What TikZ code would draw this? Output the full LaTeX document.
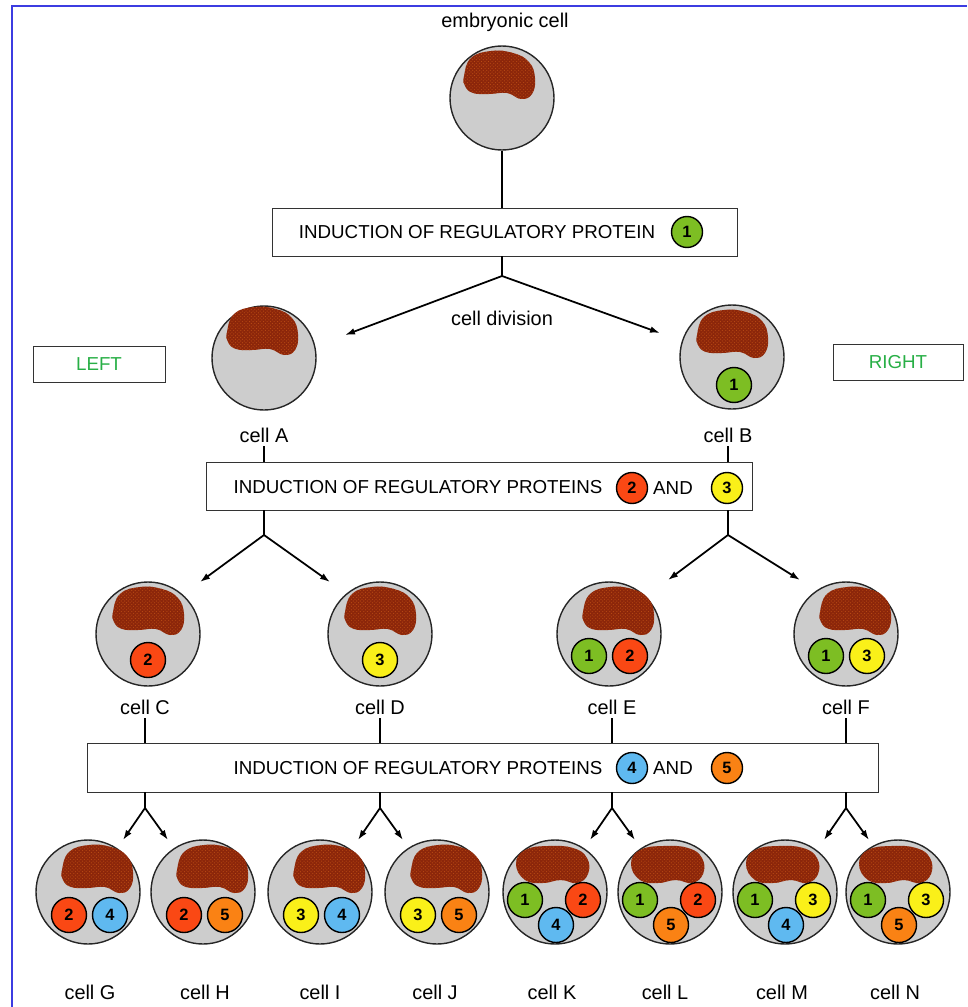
\documentclass[tikz,border=0pt]{standalone}
\usepackage{fontspec}
\setmainfont{Liberation Sans}
\usetikzlibrary{arrows.meta,patterns}
\definecolor{cyto}{RGB}{205,205,205}
\definecolor{nucl}{RGB}{140,38,10}
\definecolor{nuclspeck}{RGB}{185,75,20}
\definecolor{prot1}{RGB}{125,190,35}
\definecolor{prot2}{RGB}{250,72,20}
\definecolor{prot3}{RGB}{250,240,25}
\definecolor{prot4}{RGB}{95,185,240}
\definecolor{prot5}{RGB}{250,130,20}
\definecolor{sidegreen}{RGB}{40,175,70}
\definecolor{framebl}{RGB}{60,60,225}
\tikzset{
  cellbody/.style = {circle,draw=black!85,line width=1.2pt,fill=cyto,minimum size=3.12cm,inner sep=0pt},
  nuclfill/.style = {fill=nucl,postaction={pattern=crosshatch dots,pattern color=nuclspeck}},
  protein/.style  = {circle,draw=black,line width=1.2pt,minimum size=1.05cm,inner sep=0pt,
                     font=\fontsize{14}{14}\selectfont\bfseries},
  keyprot/.style  = {protein,minimum size=0.93cm},
  stepbox/.style  = {draw=black!80,line width=0.8pt,fill=white,minimum height=1.44cm,inner sep=0pt},
  caps/.style     = {font=\fontsize{16}{19}\selectfont},
  lbl/.style      = {font=\fontsize{17}{20}\selectfont},
  link/.style     = {line width=1.5pt},
  divarr/.style   = {-{Latex[length=3mm,width=2mm]},line width=1.5pt}
}
% nucleus blobs, drawn relative to the cell centre
\newcommand{\nucleus}[2]{%
  \path[nuclfill,shift={(#1.center)},shift={(#2)}] plot[smooth cycle,tension=0.75] coordinates
    {(-35,-22) (-28,-40) (-8,-47) (14,-45) (30,-36) (36,-20) (33,-4) (22,1) (8,-5) (-10,-4) (-26,-5) (-34,-12)};}
\newcommand{\flatnucleus}[2]{%
  \path[nuclfill,shift={(#1.center)},shift={(#2)}] plot[smooth cycle,tension=0.75] coordinates
    {(-37,-28) (-28,-42) (-5,-46) (20,-44) (34,-34) (35,-18) (24,-9) (8,-12) (-10,-9) (-28,-12)};}
\newcommand{\cellat}[3]{%
  \node[cellbody] (#1) at (#2) {};
  \nucleus{#1}{#3}}
\newcommand{\flatcellat}[3]{%
  \node[cellbody] (#1) at (#2) {};
  \flatnucleus{#1}{#3}}
\newcommand{\prot}[3]{%
  \node[protein,fill=prot#1] (p#2#1) at ([shift={(#3)}]#2) {#1};}

\begin{document}
\begin{tikzpicture}[x=0.03cm,y=-0.03cm]
  \useasboundingbox (0,0) rectangle (967,1007);
  \draw[framebl,line width=1.6pt] (12,1007) -- (12,6) -- (967,6);

  % embryonic cell and first induction
  \node[lbl] (lblEmb) at (505,22) {embryonic cell};
  \cellat{cellEmb}{502,98}{-3,0}
  \node[stepbox,minimum width=13.95cm] (box1) at (504.5,232) {};
  \node[caps] (txt1) at (477,232) {INDUCTION OF REGULATORY PROTEIN};
  \node[keyprot,fill=prot1] (key1) at (687,232) {1};
  \draw[link] (cellEmb) -- (cellEmb |- box1.north);

  \coordinate (fork1) at (502,276);
  \coordinate (tipA) at (345,335);
  \coordinate (tipB) at (660,333);
  \draw[link] (box1.south -| fork1) -- (fork1);
  \draw[divarr] (fork1) -- (tipA);
  \draw[divarr] (fork1) -- (tipB);
  \node[lbl] (lblDiv) at (502,318) {cell division};

  \node[stepbox,minimum width=3.96cm,minimum height=1.08cm,caps,text=sidegreen] (leftbox) at (99,364) {LEFT};
  \node[stepbox,minimum width=3.9cm,minimum height=1.08cm,caps,text=sidegreen] (rightbox) at (898,362) {RIGHT};

  % cells A and B
  \cellat{cellA}{264,358}{-2,-4}
  \cellat{cellB}{732,357}{0,0}
  \prot{1}{cellB}{2,28}
  \node[lbl] (lblA) at (264,435) {cell A};
  \node[lbl] (lblB) at (728,435) {cell B};

  \node[stepbox,minimum width=16.38cm] (box2) at (479,486) {};
  \node[caps] (txt2) at (418,487) {INDUCTION OF REGULATORY PROTEINS};
  \node[keyprot,fill=prot2] (key2) at (632,488) {2};
  \node[caps] (and2) at (673,488) {AND};
  \node[keyprot,fill=prot3] (key3) at (727,488) {3};
  \draw[link] (lblA.south) -- (lblA.south |- box2.north);
  \draw[link] (lblB.south) -- (lblB.south |- box2.north);

  \coordinate (forkA) at (264,535);
  \coordinate (forkB) at (728,535);
  \coordinate (tipC) at (200,582);
  \coordinate (tipD) at (330,582);
  \coordinate (tipE) at (668,580);
  \coordinate (tipF) at (800,580);
  \draw[link] (box2.south -| forkA) -- (forkA);
  \draw[link] (box2.south -| forkB) -- (forkB);
  \draw[divarr] (forkA) -- (tipC);
  \draw[divarr] (forkA) -- (tipD);
  \draw[divarr] (forkB) -- (tipE);
  \draw[divarr] (forkB) -- (tipF);

  % cells C to F
  \cellat{cellC}{148,634}{0,0}
  \cellat{cellD}{380,634}{0,0}
  \cellat{cellE}{609,634}{9,0}
  \cellat{cellF}{846,634}{9,0}
  \prot{2}{cellC}{0,26}
  \prot{3}{cellD}{0,26}
  \prot{1}{cellE}{-20,22}
  \prot{2}{cellE}{21,22}
  \prot{1}{cellF}{-20,22}
  \prot{3}{cellF}{21,22}
  \node[lbl] (lblC) at (145,707) {cell C};
  \node[lbl] (lblD) at (380,707) {cell D};
  \node[lbl] (lblE) at (612,707) {cell E};
  \node[lbl] (lblF) at (846,707) {cell F};

  \node[stepbox,minimum width=23.73cm,minimum height=1.47cm] (box3) at (482.5,767.5) {};
  \node[caps] (txt3) at (418,768) {INDUCTION OF REGULATORY PROTEINS};
  \node[keyprot,fill=prot4] (key4) at (632,768) {4};
  \node[caps] (and3) at (673,768) {AND};
  \node[keyprot,fill=prot5] (key5) at (727,768) {5};

  \foreach \c/\l/\r in {C/G/H,D/I/J,E/K/L,F/M/N}{
    \coordinate (fork\c) at (lbl\c |- 0,808);
    \path (fork\c) ++(-22,32) coordinate (tip\l);
    \path (fork\c) ++(23,32) coordinate (tip\r);
    \draw[link] (lbl\c.south) -- (lbl\c.south |- box3.north);
    \draw[link] (box3.south -| fork\c) -- (fork\c);
    \draw[divarr] (fork\c) -- (tip\l);
    \draw[divarr] (fork\c) -- (tip\r);
  }

  % cells G to N
  \cellat{cellG}{88,892}{9,0}
  \cellat{cellH}{203,892}{9,0}
  \cellat{cellI}{320,892}{9,0}
  \cellat{cellJ}{437,892}{9,0}
  \flatcellat{cellK}{555,892}{-2,0}
  \flatcellat{cellL}{670,892}{-2,0}
  \flatcellat{cellM}{785,892}{-2,0}
  \flatcellat{cellN}{898,892}{-2,0}
  \prot{2}{cellG}{-19,23}
  \prot{4}{cellG}{22,23}
  \prot{2}{cellH}{-19,23}
  \prot{5}{cellH}{22,23}
  \prot{3}{cellI}{-19,23}
  \prot{4}{cellI}{22,23}
  \prot{3}{cellJ}{-19,23}
  \prot{5}{cellJ}{22,23}
  \prot{1}{cellK}{-30,8}
  \prot{2}{cellK}{28,8}
  \prot{4}{cellK}{1,33}
  \prot{1}{cellL}{-30,8}
  \prot{2}{cellL}{28,8}
  \prot{5}{cellL}{1,33}
  \prot{1}{cellM}{-30,8}
  \prot{3}{cellM}{28,8}
  \prot{4}{cellM}{1,33}
  \prot{1}{cellN}{-30,8}
  \prot{3}{cellN}{28,8}
  \prot{5}{cellN}{1,33}
  \foreach \n/\x in {G/90,H/205,I/320,J/435,K/552,L/665,M/782,N/895}
    \node[lbl] (lbl\n) at (\x,992) {cell \n};
\end{tikzpicture}
\end{document}
